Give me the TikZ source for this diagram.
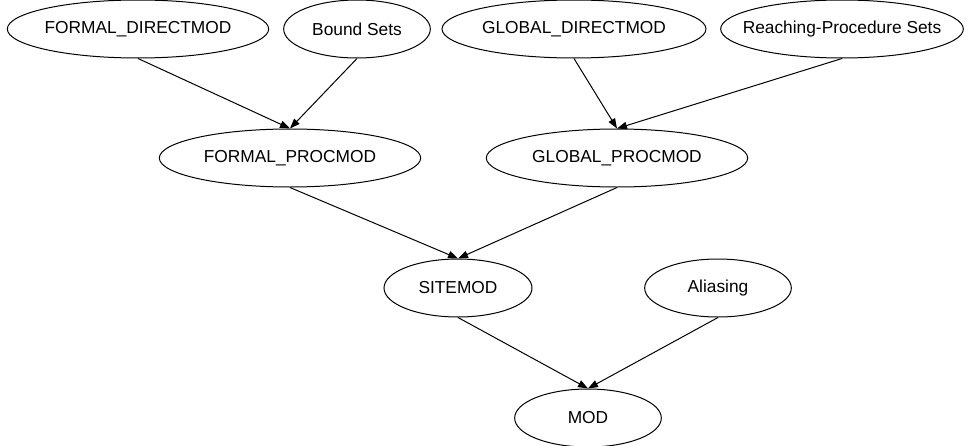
\documentclass[tikz,border=0pt]{standalone}
\usepackage{fontspec}
\setmainfont{Liberation Sans}
\usetikzlibrary{shapes.geometric,arrows.meta}

\tikzset{
	modset/.style={ellipse, draw, line width=0.75pt, minimum height=43.5pt, inner ysep=0pt, inner xsep=-12pt, font=\fontsize{13}{15}\selectfont},
	dep/.style={line width=0.75pt, -{Triangle[length=7.5pt,width=5.5pt]}}
}

\begin{document}
\begin{tikzpicture}[x=0.75pt, y=-0.75pt]
		
		\useasboundingbox (0,0) rectangle (972,446);
		
		% Top row
		\node[modset, minimum width=196pt] (fdirect) at (138,29) {FORMAL\_DIRECTMOD};
		\node[modset, minimum width=110pt] (bound) at (357,29) {Bound Sets};
		\node[modset, minimum width=198pt] (gdirect) at (574,29) {GLOBAL\_DIRECTMOD};
		\node[modset, minimum width=182pt] (reach) at (842,29) {Reaching-Procedure Sets};
		
		% Procedure level
		\node[modset, minimum width=196pt] (fproc) at (290,158) {FORMAL\_PROCMOD};
		\node[modset, minimum width=196pt] (gproc) at (617,158) {GLOBAL\_PROCMOD};
		
		% Call sites
		\node[modset, minimum width=111pt] (site) at (458,288) {SITEMOD};
		\node[modset, minimum width=110pt] (alias) at (718,288) {Aliasing};
		
		% Result
		\node[modset, minimum width=110pt] (mod) at (588,418) {MOD};
		
		% Dependencies
		\draw[dep] (fdirect.south) -- (fproc.north);
		\draw[dep] (bound.south) -- (fproc.north);
		\draw[dep] (gdirect.south) -- (gproc.north);
		\draw[dep] (reach.south) -- (gproc.north);
		
		\draw[dep] (fproc.south) -- (site.north);
		\draw[dep] (gproc.south) -- (site.north);
		
		\draw[dep] (site.south) -- (mod.north);
		\draw[dep] (alias.south) -- (mod.north);
		
	\end{tikzpicture}
\end{document}
